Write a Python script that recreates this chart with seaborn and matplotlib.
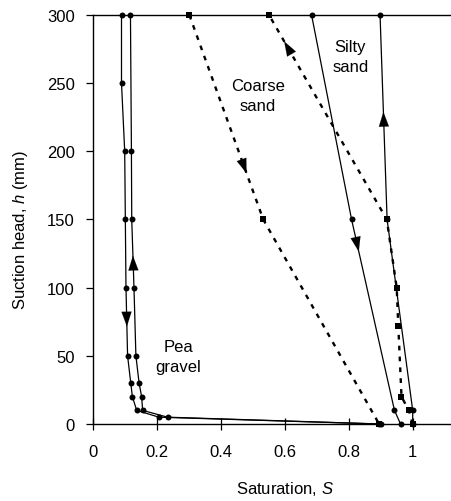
import numpy as np
import pandas as pd
import matplotlib
matplotlib.use("Agg")
import matplotlib.pyplot as plt
import seaborn as sns

# ---- data (suction head h in mm, saturation S) ----
pea_drain_h = [300, 250, 200, 150, 100, 50, 30, 20, 10, 5, 0]
pea_drain_s = [0.09, 0.09, 0.10, 0.102, 0.104, 0.109, 0.119, 0.124, 0.1375, 0.207, 0.895]
pea_wet_h = [0, 5, 10, 20, 30, 50, 100, 150, 200, 300]
pea_wet_s = [0.90, 0.234, 0.156, 0.153, 0.145, 0.135, 0.129, 0.122, 0.121, 0.118]

coarse_drain_h = [300, 150, 0]
coarse_drain_s = [0.302, 0.533, 0.895]
coarse_wet_h = [0, 10, 20, 72, 100, 150, 300]
coarse_wet_s = [1.0, 0.988, 0.965, 0.955, 0.95, 0.919, 0.551]

silty_drain_h = [300, 150, 10, 0]
silty_drain_s = [0.684, 0.809, 0.943, 0.962]
silty_wet_h = [0, 10, 150, 300]
silty_wet_s = [1.0, 1.0, 0.92, 0.898]

x_ticks = [0, 0.2, 0.4, 0.6, 0.8, 1.0]
x_tick_labels = ["0", "0.2", "0.4", "0.6", "0.8", "1"]
y_ticks = [0, 50, 100, 150, 200, 250, 300]

curves = {
    "pea_drain": (pea_drain_s, pea_drain_h, "o", "solid"),
    "pea_wet": (pea_wet_s, pea_wet_h, "o", "solid"),
    "coarse_drain": (coarse_drain_s, coarse_drain_h, "s", "dashed"),
    "coarse_wet": (coarse_wet_s, coarse_wet_h, "s", "dashed"),
    "silty_drain": (silty_drain_s, silty_drain_h, "o", "solid"),
    "silty_wet": (silty_wet_s, silty_wet_h, "o", "solid"),
}
# (curve, segment index, fraction along segment)
arrows = [
    ("pea_drain", 4, 0.46),
    ("pea_wet", 6, 0.36),
    ("coarse_drain", 0, 0.74),
    ("coarse_wet", 5, 0.84),
    ("silty_drain", 1, 0.13),
    ("silty_wet", 2, 0.49),
]

sns.set_style("ticks")
plt.rcParams["font.family"] = ["Liberation Sans", "DejaVu Sans"]
plt.rcParams["mathtext.fontset"] = "custom"
plt.rcParams["mathtext.it"] = "Liberation Sans:italic"
plt.rcParams["mathtext.rm"] = "Liberation Sans"
plt.rcParams["text.color"] = "black"

W, H = 451, 502
fig = plt.figure(figsize=(W / 100, H / 100), dpi=100)
ax_left, ax_right, ax_top, ax_bot = 92.7, 476.7, 16, 425
ax = fig.add_axes([ax_left / W, 1 - ax_bot / H, (ax_right - ax_left) / W, (ax_bot - ax_top) / H])
ax.set_xlim(0, 1.2)
ax.set_ylim(0, 300)

for name, (s, h, mk, ls) in curves.items():
    df = pd.DataFrame({"S": s, "h": h})
    if ls == "solid":
        sns.lineplot(data=df, x="S", y="h", estimator=None, sort=False, ax=ax,
                     color="black", lw=0.9, marker=mk, markersize=4.3,
                     markeredgewidth=0, markerfacecolor="black", clip_on=False, zorder=3)
    else:
        sns.lineplot(data=df, x="S", y="h", estimator=None, sort=False, ax=ax,
                     color="black", lw=1.7, linestyle=(0, (2.0, 2.6)), marker=mk,
                     markersize=4.8, markeredgewidth=0, markerfacecolor="black",
                     clip_on=False, zorder=3)

# arrows along curves
for name, seg, frac in arrows:
    s, h, _, _ = curves[name]
    p0 = np.array([s[seg], h[seg]])
    p1 = np.array([s[seg + 1], h[seg + 1]])
    pos = p0 + frac * (p1 - p0)
    d0 = ax.transData.transform(p0)
    d1 = ax.transData.transform(p1)
    u = (d1 - d0) / np.linalg.norm(d1 - d0)
    dpos = ax.transData.transform(pos)
    tip = ax.transData.inverted().transform(dpos + 7.5 * u)
    L = 15 / 1.389
    ax.annotate("", xy=tip, xytext=(-L * u[0], -L * u[1]), textcoords="offset points",
                arrowprops=dict(arrowstyle="-|>,head_length=1.05,head_width=0.36",
                                mutation_scale=10, color="black", lw=0.1,
                                shrinkA=0, shrinkB=0), zorder=4)

fs = 12
ax.text(0.267, 49.5, "Pea\ngravel", ha="center", va="center", fontsize=fs, linespacing=1.45)
ax.text(0.517, 241, "Coarse\nsand", ha="center", va="center", fontsize=fs, linespacing=1.45)
ax.text(0.805, 269.5, "Silty\nsand", ha="center", va="center", fontsize=fs, linespacing=1.45)

ax.set_xticks(x_ticks)
ax.set_xticklabels(x_tick_labels)
ax.set_yticks(y_ticks)
ax.tick_params(axis="x", direction="inout", length=9, width=0.9, labelsize=fs, pad=10,
               colors="black", labelcolor="black")
ax.tick_params(axis="y", direction="out", length=5, width=0.9, labelsize=fs, pad=8,
               colors="black", labelcolor="black")

ax.set_xlabel("Saturation, $S$", fontsize=fs, labelpad=14, color="black")
ax.set_ylabel("Suction head, $h$ (mm)", fontsize=fs, color="black")
ax.yaxis.set_label_coords(-(ax_left - 30) / (ax_right - ax_left), (ax_bot - 230) / (ax_bot - ax_top))

for sp in ["left", "bottom", "top"]:
    ax.spines[sp].set_visible(True)
    ax.spines[sp].set_color("black")
    ax.spines[sp].set_linewidth(1.0)
ax.spines["right"].set_visible(False)

fig.savefig("out.png", dpi=100)
